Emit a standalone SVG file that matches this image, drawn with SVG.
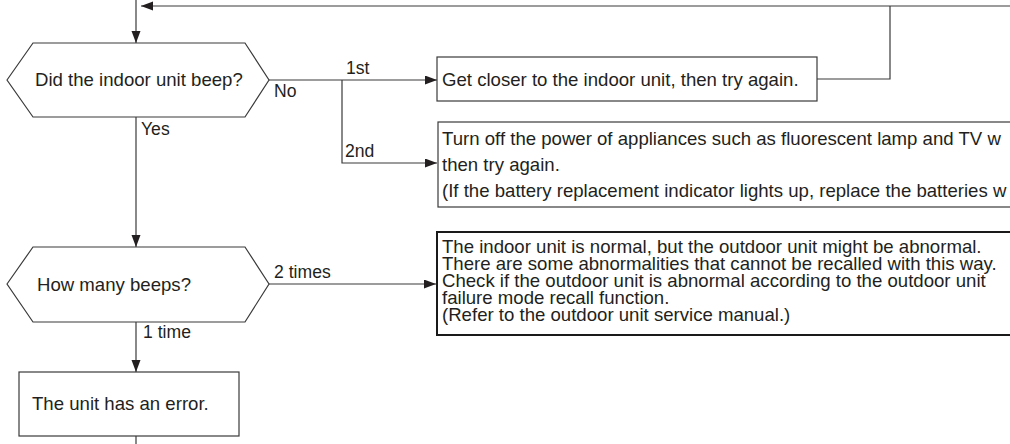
<svg xmlns="http://www.w3.org/2000/svg" width="1010" height="444" viewBox="0 0 1010 444">
  <style>
    .shape { fill: #ffffff; stroke: #3a3a3a; stroke-width: 1.2; }
    .thick { fill: #ffffff; stroke: #1a1a1a; stroke-width: 2; }
    .conn { fill: none; stroke: #3a3a3a; stroke-width: 1.2; }
    .txt { font-family: "Liberation Sans", Arial, sans-serif; font-size: 18.6px; fill: #231f20; }
    .lbl { font-family: "Liberation Sans", Arial, sans-serif; font-size: 17.6px; fill: #231f20; }
  </style>
  <defs>
    <marker id="arrow" markerUnits="userSpaceOnUse" markerWidth="13" markerHeight="10" refX="12" refY="4.5" orient="auto">
      <path d="M0,0 L12,4.5 L0,9 z" fill="#231f20"/>
    </marker>
  </defs>
  <rect width="1010" height="444" fill="#ffffff"/>

  <g id="connectors">
    <path class="conn" d="M136,0 V43" marker-end="url(#arrow)"/>
    <path class="conn" d="M1012,6 H141" marker-end="url(#arrow)"/>
    <path class="conn" d="M817,79 H890 V6"/>
    <path class="conn" d="M269,80 H437" marker-end="url(#arrow)"/>
    <path class="conn" d="M342,80 V163 H437" marker-end="url(#arrow)"/>
    <path class="conn" d="M136,117 V247" marker-end="url(#arrow)"/>
    <path class="conn" d="M269,284 H436" marker-end="url(#arrow)"/>
    <path class="conn" d="M136,322 V372" marker-end="url(#arrow)"/>
    <path class="conn" d="M136,436 V444"/>
    <text class="lbl" x="274" y="97">No</text>
    <text class="lbl" x="346" y="74">1st</text>
    <text class="lbl" x="345" y="157">2nd</text>
    <text class="lbl" x="141" y="135">Yes</text>
    <text class="lbl" x="274" y="278">2 times</text>
    <text class="lbl" x="143" y="338">1 time</text>
  </g>

  <g id="q-beep">
    <polygon class="shape" points="7,80 33,43 245,43 269,80 245,117 33,117"/>
    <text class="txt" x="35" y="86">Did the indoor unit beep?</text>
  </g>

  <g id="closer">
    <rect class="shape" x="437" y="57" width="380" height="44"/>
    <text class="txt" x="442" y="86">Get closer to the indoor unit, then try again.</text>
  </g>

  <g id="power-off">
    <rect class="shape" x="438" y="122" width="600" height="85"/>
    <text class="txt" x="442" y="145">Turn off the power of appliances such as fluorescent lamp and TV w</text>
    <text class="txt" x="442" y="171">then try again.</text>
    <text class="txt" x="442" y="197">(If the battery replacement indicator lights up, replace the batteries w</text>
  </g>

  <g id="q-count">
    <polygon class="shape" points="7,284 33,247 245,247 269,284 245,322 33,322"/>
    <text class="txt" x="37" y="291">How many beeps?</text>
  </g>

  <g id="outdoor">
    <rect class="thick" x="437" y="232" width="600" height="103"/>
    <text class="txt" x="442" y="253">The indoor unit is normal, but the outdoor unit might be abnormal.</text>
    <text class="txt" x="442" y="270">There are some abnormalities that cannot be recalled with this way.</text>
    <text class="txt" x="442" y="287">Check if the outdoor unit is abnormal according to the outdoor unit</text>
    <text class="txt" x="442" y="304">failure mode recall function.</text>
    <text class="txt" x="442" y="321">(Refer to the outdoor unit service manual.)</text>
  </g>

  <g id="error">
    <rect class="shape" x="19" y="372" width="220" height="64"/>
    <text class="txt" x="32" y="410">The unit has an error.</text>
  </g>
</svg>
